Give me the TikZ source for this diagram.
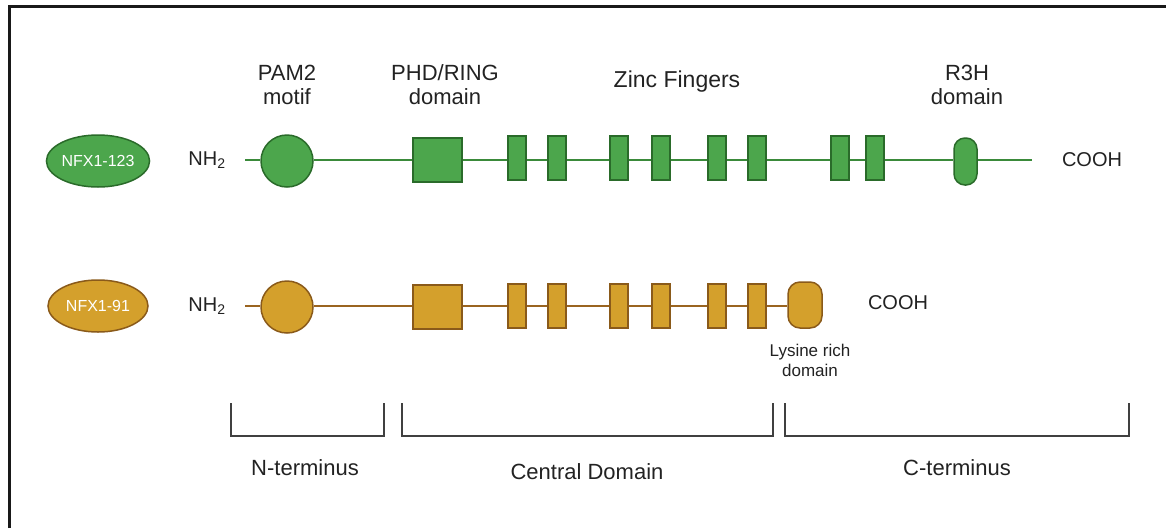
\documentclass[tikz,border=0pt]{standalone}
\usepackage{fontspec}
\setmainfont{Liberation Sans}
\usetikzlibrary{shapes.geometric}
\definecolor{gfill}{HTML}{4CA64C}
\definecolor{gdraw}{HTML}{2A6B2A}
\definecolor{gline}{HTML}{3A8A3A}
\definecolor{ofill}{HTML}{D4A02C}
\definecolor{odraw}{HTML}{8A5A1A}
\definecolor{oline}{HTML}{9A6420}
\definecolor{txt}{HTML}{222222}
\begin{document}
\begin{tikzpicture}[x=1pt,y=-1pt,
  lbl/.style={font=\fontsize{22}{24}\selectfont, text=txt, align=center, inner sep=0},
  chem/.style={font=\fontsize{20}{23}\selectfont, text=txt, align=center, inner sep=0},
  small/.style={font=\fontsize{17}{20}\selectfont, text=txt, align=center, inner sep=0},
  iso/.style={ellipse, minimum width=100pt, minimum height=52pt, inner sep=0, line width=1.5pt, font=\fontsize{16}{18}\selectfont, text=white},
  circ/.style={circle, minimum size=52pt, inner sep=0, line width=1.5pt},
  sq/.style={rectangle, minimum width=49pt, minimum height=44pt, inner sep=0, line width=1.5pt},
  zf/.style={rectangle, minimum width=18pt, minimum height=44pt, inner sep=0, line width=1.5pt},
  r3h/.style={rectangle, rounded corners=11pt, minimum width=23pt, minimum height=47pt, inner sep=0, line width=1.5pt},
  lys/.style={rectangle, rounded corners=12pt, minimum width=34pt, minimum height=46pt, inner sep=0, line width=1.5pt},
  green/.style={fill=gfill, draw=gdraw},
  gold/.style={fill=ofill, draw=odraw},
  gconn/.style={draw=gline, line width=1.8pt},
  oconn/.style={draw=oline, line width=1.8pt},
  bracket/.style={draw=black!75, line width=1.8pt},
  frame/.style={draw=black!90, line width=3pt}
]
\useasboundingbox (0,0) rectangle (1166,528);
% frame (top and left edges)
\draw[frame] (9,528) -- (9,6) -- (1166,6);

% top labels
\node[lbl] (tPAM) at (287,85) {PAM2\\motif};
\node[lbl] (tPHD) at (445,85) {PHD/RING\\domain};
\node[lbl,font=\fontsize{23}{24}\selectfont] (tZF) at (677,82) {Zinc Fingers};
\node[lbl] (tR3H) at (967,85) {R3H\\domain};

% row 1: NFX1-123
\node[iso, green] (iso1) at (98,161) {NFX1-123};
\node[chem] (nh1) at (207,160) {NH\textsubscript{2}};
\coordinate (s1) at (245,160);
\coordinate (e1) at (1032,160);
\node[chem] (cooh1) at (1092,160) {COOH};
\node[circ, green] (pam1) at (287,161) {};
\node[sq, green] (phd1) at (437.5,160) {};
\node[zf, green] (za1) at (517,158) {};
\node[zf, green] (zb1) at (557,158) {};
\node[zf, green] (zc1) at (619,158) {};
\node[zf, green] (zd1) at (661,158) {};
\node[zf, green] (ze1) at (717,158) {};
\node[zf, green] (zf1) at (757,158) {};
\node[zf, green] (zg1) at (840,158) {};
\node[zf, green] (zh1) at (875,158) {};
\node[r3h, green] (r3h1) at (965.5,161.5) {};
\draw[gconn] (s1) -- (pam1.west |- s1);
\draw[gconn] (pam1.east |- s1) -- (phd1.west |- s1);
\draw[gconn] (phd1.east |- s1) -- (za1.west |- s1);
\draw[gconn] (za1.east |- s1) -- (zb1.west |- s1);
\draw[gconn] (zb1.east |- s1) -- (zc1.west |- s1);
\draw[gconn] (zc1.east |- s1) -- (zd1.west |- s1);
\draw[gconn] (zd1.east |- s1) -- (ze1.west |- s1);
\draw[gconn] (ze1.east |- s1) -- (zf1.west |- s1);
\draw[gconn] (zf1.east |- s1) -- (zg1.west |- s1);
\draw[gconn] (zg1.east |- s1) -- (zh1.west |- s1);
\draw[gconn] (zh1.east |- s1) -- (r3h1.west |- s1);
\draw[gconn] (r3h1.east |- s1) -- (e1);

% row 2: NFX1-91
\node[iso, gold] (iso2) at (98,306) {NFX1-91};
\node[chem] (nh2) at (207,306) {NH\textsubscript{2}};
\coordinate (s2) at (245,306);
\node[chem] (cooh2) at (898,303) {COOH};
\node[circ, gold] (pam2) at (287,307) {};
\node[sq, gold] (phd2) at (437.5,307) {};
\node[zf, gold] (za2) at (517,306) {};
\node[zf, gold] (zb2) at (557,306) {};
\node[zf, gold] (zc2) at (619,306) {};
\node[zf, gold] (zd2) at (661,306) {};
\node[zf, gold] (ze2) at (717,306) {};
\node[zf, gold] (zf2) at (757,306) {};
\node[lys, gold] (lys2) at (805,305) {};
\node[small] (tLys) at (810,360) {Lysine rich\\domain};
\draw[oconn] (s2) -- (pam2.west |- s2);
\draw[oconn] (pam2.east |- s2) -- (phd2.west |- s2);
\draw[oconn] (phd2.east |- s2) -- (za2.west |- s2);
\draw[oconn] (za2.east |- s2) -- (zb2.west |- s2);
\draw[oconn] (zb2.east |- s2) -- (zc2.west |- s2);
\draw[oconn] (zc2.east |- s2) -- (zd2.west |- s2);
\draw[oconn] (zd2.east |- s2) -- (ze2.west |- s2);
\draw[oconn] (ze2.east |- s2) -- (zf2.west |- s2);
\draw[oconn] (zf2.east |- s2) -- (lys2.west |- s2);

% brackets
\draw[bracket] (231,403) -- (231,436) -- (384,436) -- (384,403);
\draw[bracket] (402,403) -- (402,436) -- (773,436) -- (773,403);
\draw[bracket] (785,403) -- (785,436) -- (1129,436) -- (1129,403);
\node[lbl] (tN) at (305,468) {N-terminus};
\node[lbl] (tC) at (587,472) {Central Domain};
\node[lbl] (tCt) at (957,468) {C-terminus};
\end{tikzpicture}
\end{document}
